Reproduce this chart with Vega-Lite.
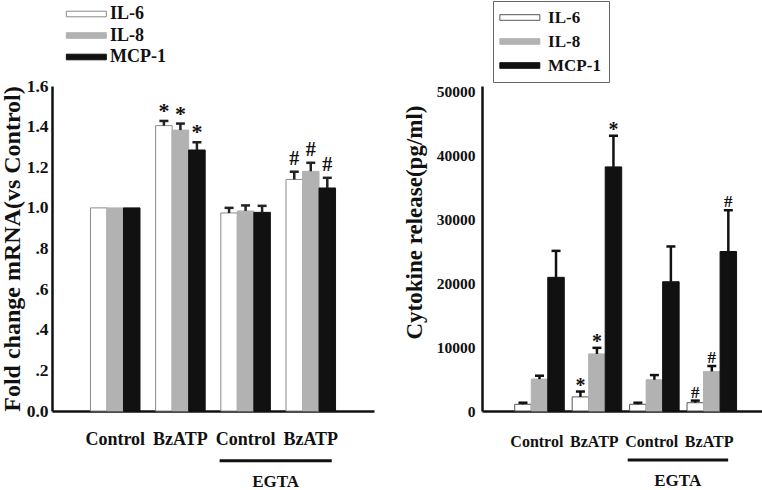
{
  "$schema": "https://vega.github.io/schema/vega-lite/v6.json",
  "background": "white",
  "padding": {"left": 0, "top": 0, "right": 0, "bottom": 0},
  "spacing": 29,
  "config": {
    "font": "Liberation Serif",
    "view": {"stroke": null},
    "axis": {"labelFont": "Liberation Serif", "labelFontWeight": "bold", "labelColor": "#111", "titleFont": "Liberation Serif", "titleFontWeight": "bold", "titleColor": "#111", "domainColor": "#111", "domainWidth": 2.5, "ticks": false, "grid": false},
    "legend": {"labelFont": "Liberation Serif", "labelFontWeight": "bold", "labelColor": "#111", "symbolType": "M-3,-0.42H3V0.42H-3Z", "symbolSize": 177.8, "symbolOffset": 13.33, "symbolStrokeColor": "#666", "symbolStrokeWidth": 1, "symbolOpacity": 1, "title": null, "direction": "vertical"},
    "text": {"font": "Liberation Serif", "fontWeight": "bold", "color": "#111"}
  },
  "resolve": {"scale": {"fill": "independent", "stroke": "independent"}, "legend": {"fill": "independent"}},
  "datasets": {
    "mrna": [
      {"group": "g1", "cytokine": "IL-6", "mean": 1.0, "hi": 1.0, "sig": ""},
      {"group": "g1", "cytokine": "IL-8", "mean": 1.0, "hi": 1.0, "sig": ""},
      {"group": "g1", "cytokine": "MCP-1", "mean": 1.0, "hi": 1.0, "sig": ""},
      {"group": "g2", "cytokine": "IL-6", "mean": 1.405, "hi": 1.428, "sig": "*"},
      {"group": "g2", "cytokine": "IL-8", "mean": 1.383, "hi": 1.415, "sig": "*"},
      {"group": "g2", "cytokine": "MCP-1", "mean": 1.285, "hi": 1.323, "sig": "*"},
      {"group": "g3", "cytokine": "IL-6", "mean": 0.975, "hi": 1.0, "sig": ""},
      {"group": "g3", "cytokine": "IL-8", "mean": 0.985, "hi": 1.012, "sig": ""},
      {"group": "g3", "cytokine": "MCP-1", "mean": 0.978, "hi": 1.01, "sig": ""},
      {"group": "g4", "cytokine": "IL-6", "mean": 1.14, "hi": 1.178, "sig": "#"},
      {"group": "g4", "cytokine": "IL-8", "mean": 1.18, "hi": 1.222, "sig": "#"},
      {"group": "g4", "cytokine": "MCP-1", "mean": 1.098, "hi": 1.148, "sig": "#"}
    ],
    "cyto": [
      {"group": "g1", "cytokine": "IL-6", "mean": 1050, "hi": 1300, "sig": ""},
      {"group": "g1", "cytokine": "IL-8", "mean": 5000, "hi": 5530, "sig": ""},
      {"group": "g1", "cytokine": "MCP-1", "mean": 20950, "hi": 25100, "sig": ""},
      {"group": "g2", "cytokine": "IL-6", "mean": 2210, "hi": 3050, "sig": "*"},
      {"group": "g2", "cytokine": "IL-8", "mean": 8950, "hi": 9900, "sig": "*"},
      {"group": "g2", "cytokine": "MCP-1", "mean": 38260, "hi": 43160, "sig": "*"},
      {"group": "g3", "cytokine": "IL-6", "mean": 1050, "hi": 1300, "sig": ""},
      {"group": "g3", "cytokine": "IL-8", "mean": 4900, "hi": 5630, "sig": ""},
      {"group": "g3", "cytokine": "MCP-1", "mean": 20260, "hi": 25790, "sig": ""},
      {"group": "g4", "cytokine": "IL-6", "mean": 1300, "hi": 1630, "sig": "#"},
      {"group": "g4", "cytokine": "IL-8", "mean": 6200, "hi": 7050, "sig": "#"},
      {"group": "g4", "cytokine": "MCP-1", "mean": 25000, "hi": 31470, "sig": "#"}
    ]
  },
  "hconcat": [
    {
      "width": 322,
      "height": 325,
      "data": {"name": "mrna"},
      "encoding": {
        "x": {"field": "group", "type": "nominal", "scale": {"paddingInner": 0.24, "paddingOuter": 0.59}, "axis": {"title": null, "labelAngle": 0, "labelFontSize": 18, "labelPadding": 19, "labelExpr": "datum.value == 'g1' || datum.value == 'g3' ? 'Control' : 'BzATP'"}},
        "xOffset": {"field": "cytokine", "type": "nominal", "scale": {"paddingInner": 0, "paddingOuter": 0}}
      },
      "layer": [
        {
          "mark": {"type": "bar", "strokeWidth": 1},
          "encoding": {
            "y": {"field": "mean", "type": "quantitative", "scale": {"domain": [0, 1.6], "nice": false}, "axis": {"title": "Fold change mRNA(vs Control)", "titleFontSize": 24, "titlePadding": 2, "labelFontSize": 17.5, "labelPadding": 4, "values": [0, 0.2, 0.4, 0.6, 0.8, 1.0, 1.2, 1.4, 1.6], "labelExpr": "datum.value == 0 ? '0.0' : (datum.value < 0.99 ? replace(format(datum.value, '.1f'), '0.', '.') : format(datum.value, '.1f'))"}},
            "fill": {"field": "cytokine", "type": "nominal", "scale": {"domain": ["IL-6", "IL-8", "MCP-1"], "range": ["#ffffff", "#b2b2b2", "#111111"]}, "legend": {"orient": "none", "legendX": 12, "legendY": -81, "labelFontSize": 18, "labelOffset": 14.7, "rowPadding": 3.5}},
            "stroke": {"field": "cytokine", "type": "nominal", "scale": {"domain": ["IL-6", "IL-8", "MCP-1"], "range": ["#8a8a8a", "#b2b2b2", "#111111"]}, "legend": null}
          }
        },
        {
          "transform": [{"filter": "datum.hi > datum.mean"}],
          "mark": {"type": "rule", "color": "#222", "strokeWidth": 2.5},
          "encoding": {
            "y": {"field": "mean", "type": "quantitative"},
            "y2": {"field": "hi"}
          }
        },
        {
          "transform": [{"filter": "datum.hi > datum.mean"}],
          "mark": {"type": "tick", "color": "#222", "size": 9, "thickness": 2.5, "opacity": 1},
          "encoding": {
            "y": {"field": "hi", "type": "quantitative"}
          }
        },
        {
          "transform": [{"filter": "datum.sig == '*'"}],
          "mark": {"type": "text", "fontSize": 22, "baseline": "alphabetic", "dy": -3},
          "encoding": {
            "y": {"field": "hi", "type": "quantitative"},
            "text": {"field": "sig"}
          }
        },
        {
          "transform": [{"filter": "datum.sig == '#'"}],
          "mark": {"type": "text", "fontSize": 20, "baseline": "alphabetic", "dy": -7},
          "encoding": {
            "y": {"field": "hi", "type": "quantitative"},
            "text": {"field": "sig"}
          }
        },
        {
          "data": {"values": [{"label": "EGTA"}]},
          "mark": {"type": "rule", "color": "#111", "strokeWidth": 3, "xOffset": -26, "x2Offset": 21},
          "encoding": {
            "x": {"datum": "g3", "type": "nominal"},
            "x2": {"datum": "g4"},
            "y": {"datum": -0.245, "type": "quantitative"},
            "xOffset": null
          }
        },
        {
          "data": {"values": [{"label": "EGTA"}]},
          "mark": {"type": "text", "fontSize": 17, "baseline": "middle", "dx": 30},
          "encoding": {
            "x": {"datum": "g3", "type": "nominal"},
            "y": {"datum": -0.35, "type": "quantitative"},
            "text": {"field": "label"},
            "xOffset": null
          }
        }
      ]
    },
    {
      "width": 282,
      "height": 325,
      "data": {"name": "cyto"},
      "encoding": {
        "x": {"field": "group", "type": "nominal", "scale": {"paddingInner": 0.23, "paddingOuter": 0.57}, "axis": {"title": null, "labelAngle": 0, "labelFontSize": 16, "labelPadding": 22, "labelExpr": "datum.value == 'g1' || datum.value == 'g3' ? 'Control' : 'BzATP'"}},
        "xOffset": {"field": "cytokine", "type": "nominal", "scale": {"paddingInner": 0, "paddingOuter": 0}}
      },
      "layer": [
        {
          "mark": {"type": "bar", "strokeWidth": 1},
          "encoding": {
            "y": {"field": "mean", "type": "quantitative", "scale": {"domain": [0, 50940], "nice": false}, "axis": {"title": "Cytokine release(pg/ml)", "titleFontSize": 23, "titlePadding": 10, "titleY": 136, "labelFontSize": 15.5, "labelPadding": 7, "values": [0, 10000, 20000, 30000, 40000, 50000], "format": "d"}},
            "fill": {"field": "cytokine", "type": "nominal", "scale": {"domain": ["IL-6", "IL-8", "MCP-1"], "range": ["#ffffff", "#b2b2b2", "#111111"]}, "legend": {"orient": "none", "legendX": 11, "legendY": -85, "labelFontSize": 17, "symbolOffset": 10.33, "labelOffset": 19.7, "rowPadding": 6, "padding": 8, "strokeColor": "#666", "fillColor": "white"}},
            "stroke": {"field": "cytokine", "type": "nominal", "scale": {"domain": ["IL-6", "IL-8", "MCP-1"], "range": ["#555555", "#b2b2b2", "#111111"]}, "legend": null}
          }
        },
        {
          "transform": [{"filter": "datum.hi > datum.mean"}],
          "mark": {"type": "rule", "color": "#111", "strokeWidth": 2.5},
          "encoding": {
            "y": {"field": "mean", "type": "quantitative"},
            "y2": {"field": "hi"}
          }
        },
        {
          "transform": [{"filter": "datum.hi > datum.mean"}],
          "mark": {"type": "tick", "color": "#111", "size": 9, "thickness": 2.5, "opacity": 1},
          "encoding": {
            "y": {"field": "hi", "type": "quantitative"}
          }
        },
        {
          "transform": [{"filter": "datum.sig == '*'"}],
          "mark": {"type": "text", "fontSize": 20, "baseline": "alphabetic", "dy": 0},
          "encoding": {
            "y": {"field": "hi", "type": "quantitative"},
            "text": {"field": "sig"}
          }
        },
        {
          "transform": [{"filter": "datum.sig == '#'"}],
          "mark": {"type": "text", "fontSize": 17, "baseline": "alphabetic", "dy": -3},
          "encoding": {
            "y": {"field": "hi", "type": "quantitative"},
            "text": {"field": "sig"}
          }
        },
        {
          "data": {"values": [{"label": "EGTA"}]},
          "mark": {"type": "rule", "color": "#111", "strokeWidth": 3, "xOffset": -24, "x2Offset": 19},
          "encoding": {
            "x": {"datum": "g3", "type": "nominal"},
            "x2": {"datum": "g4"},
            "y": {"datum": -7680, "type": "quantitative"},
            "xOffset": null
          }
        },
        {
          "data": {"values": [{"label": "EGTA"}]},
          "mark": {"type": "text", "fontSize": 17, "baseline": "middle", "dx": 26},
          "encoding": {
            "x": {"datum": "g3", "type": "nominal"},
            "y": {"datum": -10970, "type": "quantitative"},
            "text": {"field": "label"},
            "xOffset": null
          }
        }
      ]
    }
  ]
}
